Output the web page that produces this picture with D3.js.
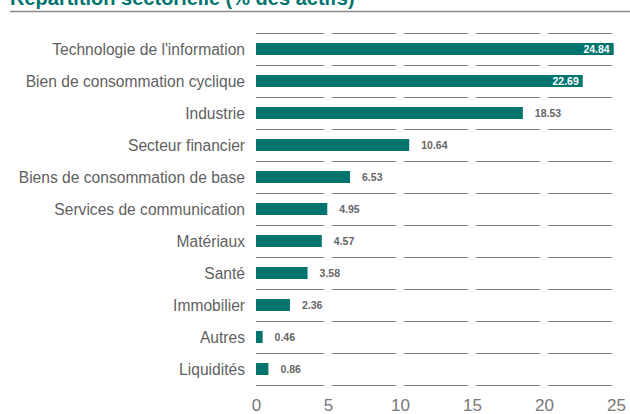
<!DOCTYPE html>
<html><head><meta charset="utf-8">
<script src="https://cdn.jsdelivr.net/npm/d3@7"></script>
<style>body{margin:0;background:#fff}svg{display:block}</style>
</head><body><svg id="c" width="630" height="414"></svg>
<script>
const categories = ["Technologie de l'information","Bien de consommation cyclique","Industrie","Secteur financier","Biens de consommation de base","Services de communication","Matériaux","Santé","Immobilier","Autres","Liquidités"];
const values = [24.84,22.69,18.53,10.64,6.53,4.95,4.57,3.58,2.36,0.46,0.86];
const tickValues = [0,5,10,15,20,25];
const title = "Répartition sectorielle (% des actifs)";

const svg = d3.select("#c");
const teal = "#00756f";
const x = d3.scaleLinear().domain([0,25]).range([256,616]);
const y = d3.scaleBand().domain(categories).range([33,385]);

svg.append("text").attr("x",10).attr("y",5).attr("fill",teal)
  .attr("font-family","Liberation Sans, Arial, sans-serif").attr("font-weight","bold").attr("font-size",20)
  .text(title);
svg.append("line").attr("x1",10).attr("x2",630).attr("y1",11.5).attr("y2",11.5).attr("stroke","#8a8a8a").attr("stroke-width",1.5);

// grid segments
const bounds = categories.map(c=>y(c)).concat([y.range()[1]]);
const segs = [];
bounds.forEach(b=>{ for(let i=0;i<tickValues.length-1;i++) segs.push({y:b,x0:x(tickValues[i]),x1:x(tickValues[i+1])}); });
svg.append("g").selectAll("line").data(segs).join("line")
  .attr("x1",d=>d.x0+(d.x0>x(0)?4:0)).attr("x2",d=>d.x1-4)
  .attr("y1",d=>Math.round(d.y)+0.5).attr("y2",d=>Math.round(d.y)+0.5)
  .attr("stroke","#7a7a7a").attr("stroke-width",1);

const bh = 12;
svg.append("g").selectAll("rect").data(values).join("rect")
  .attr("x",x(0)).attr("y",(d,i)=>y(categories[i])+y.bandwidth()/2-bh/2)
  .attr("width",d=>x(d)-x(0)).attr("height",bh).attr("fill",teal);

svg.append("g").selectAll("text").data(values).join("text")
  .attr("x",d=>d>20?x(d)-4:x(d)+12)
  .attr("y",(d,i)=>y(categories[i])+y.bandwidth()/2+4)
  .attr("text-anchor",d=>d>20?"end":"start")
  .attr("fill",d=>d>20?"#fff":"#666")
  .attr("font-family","Liberation Sans, Arial, sans-serif").attr("font-weight","bold").attr("font-size",10.5)
  .text(d=>d.toFixed(2));

svg.append("g").selectAll("text").data(categories).join("text")
  .attr("x",245).attr("y",c=>y(c)+y.bandwidth()/2+5.5)
  .attr("text-anchor","end").attr("fill","#5f5f5f")
  .attr("font-family","Liberation Sans, Arial, sans-serif").attr("font-size",15.6)
  .text(c=>c);

const ax = svg.append("g").attr("transform","translate(0,385)")
  .call(d3.axisBottom(x).tickValues(tickValues).tickSize(0).tickPadding(14).tickFormat(d3.format("d")));
ax.select(".domain").remove();
ax.selectAll("text").attr("fill","#777").attr("font-size",17)
  .attr("font-family","Liberation Sans, Arial, sans-serif").attr("font-weight","300");
</script></body></html>
